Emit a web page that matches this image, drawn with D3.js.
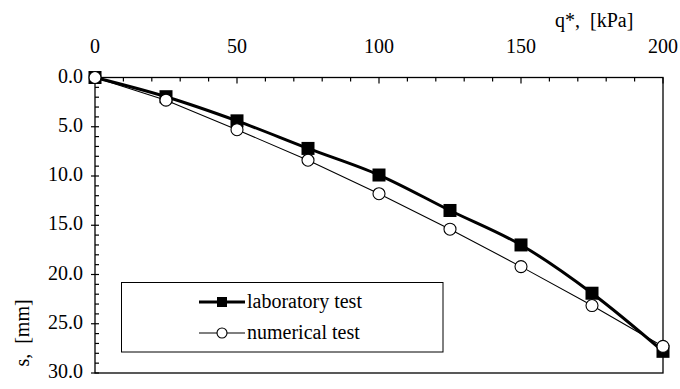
<!DOCTYPE html>
<html>
<head>
<meta charset="utf-8">
<script src="https://cdn.jsdelivr.net/npm/d3@7"></script>
<style>
  html, body { margin: 0; padding: 0; background: #fff; }
  svg { display: block; }
</style>
</head>
<body>
<svg id="settlement-plot" width="680" height="389"></svg>
<script>
// Load q* [kPa] and settlement s [mm]
const loads = [0, 25, 50, 75, 100, 125, 150, 175, 200];
const labSettlement = [0, 1.95, 4.4, 7.2, 9.9, 13.5, 17.0, 21.9, 27.8];
const numSettlement = [0, 2.3, 5.3, 8.4, 11.8, 15.4, 19.2, 23.15, 27.3];
const xTickLabels = [0, 50, 100, 150, 200];
const yTickLabels = [0, 5, 10, 15, 20, 25, 30];
const seriesNames = ["laboratory test", "numerical test"];

const svg = d3.select("#settlement-plot");
const plotLeft = 95, plotRight = 663, plotTop = 77.5, plotBottom = 373;
const FONT = "Liberation Serif";
const FS = 20;

const x = d3.scaleLinear().domain([0, 200]).range([plotLeft, plotRight]);
const y = d3.scaleLinear().domain([0, 30]).range([plotTop, plotBottom]);

function label(sel) {
  return sel.attr("font-family", FONT).style("font-family", FONT)
    .attr("font-size", FS).attr("fill", "#000");
}

// Frame
svg.append("rect")
  .attr("x", plotLeft).attr("y", plotTop)
  .attr("width", plotRight - plotLeft).attr("height", plotBottom - plotTop)
  .attr("fill", "none").attr("stroke", "#000").attr("stroke-width", 1.3);

// Top axis: minor ticks every 10, major every 50, pointing into the plot
const xMinor = d3.range(0, 201, 10);
svg.append("g").selectAll("line").data(xMinor).join("line")
  .attr("x1", d => x(d)).attr("x2", d => x(d))
  .attr("y1", plotTop).attr("y2", d => plotTop + (d % 50 === 0 ? 6 : 4))
  .attr("stroke", "#000").attr("stroke-width", 1.2);

svg.append("g").selectAll("text").data(xTickLabels).join("text")
  .attr("x", d => x(d)).attr("y", 53)
  .attr("text-anchor", "middle")
  .call(label)
  .text(d => d);

svg.append("text")
  .attr("x", 555).attr("y", 27)
  .call(label)
  .style("white-space", "pre")
  .text("q*,  [kPa]");

// Left axis: minor ticks every 1 mm, major every 5 mm
const yMinor = d3.range(0, 31, 1);
svg.append("g").selectAll("line").data(yMinor).join("line")
  .attr("x1", d => d % 5 === 0 ? plotLeft - 4 : plotLeft)
  .attr("x2", plotLeft + 4)
  .attr("y1", d => y(d)).attr("y2", d => y(d))
  .attr("stroke", "#000").attr("stroke-width", 1.2);

svg.append("g").selectAll("text").data(yTickLabels).join("text")
  .attr("x", 83).attr("y", d => y(d) + 5)
  .attr("text-anchor", "end")
  .call(label)
  .text(d => d3.format(".1f")(d));

svg.append("text")
  .attr("transform", "translate(29,333) rotate(-90)")
  .attr("text-anchor", "middle")
  .call(label)
  .style("white-space", "pre")
  .text("s,  [mm]");

// Curves
const labData = loads.map((q, i) => [q, labSettlement[i]]);
const numData = loads.map((q, i) => [q, numSettlement[i]]);

const smooth = d3.line().x(d => x(d[0])).y(d => y(d[1])).curve(d3.curveCatmullRom.alpha(0.5));
const straight = d3.line().x(d => x(d[0])).y(d => y(d[1]));

svg.append("path").datum(labData)
  .attr("d", smooth).attr("fill", "none")
  .attr("stroke", "#000").attr("stroke-width", 3);

svg.append("g").selectAll("rect").data(labData).join("rect")
  .attr("x", d => x(d[0]) - 6.5).attr("y", d => y(d[1]) - 6.5)
  .attr("width", 13).attr("height", 13)
  .attr("fill", "#000");

svg.append("path").datum(numData)
  .attr("d", straight).attr("fill", "none")
  .attr("stroke", "#000").attr("stroke-width", 1.1);

svg.append("g").selectAll("circle").data(numData).join("circle")
  .attr("cx", d => x(d[0])).attr("cy", d => y(d[1]))
  .attr("r", 6)
  .attr("fill", "#fff").attr("stroke", "#000").attr("stroke-width", 1.1);

// Legend
const lg = svg.append("g");
lg.append("rect")
  .attr("x", 121.5).attr("y", 282.5).attr("width", 321.5).attr("height", 69.5)
  .attr("fill", "#fff").attr("stroke", "#000").attr("stroke-width", 1);

const ly = [302, 333];
lg.append("line").attr("x1", 199).attr("x2", 245).attr("y1", ly[0]).attr("y2", ly[0])
  .attr("stroke", "#000").attr("stroke-width", 3);
lg.append("rect").attr("x", 222 - 5).attr("y", ly[0] - 5).attr("width", 10).attr("height", 10)
  .attr("fill", "#000");
lg.append("line").attr("x1", 199).attr("x2", 245).attr("y1", ly[1]).attr("y2", ly[1])
  .attr("stroke", "#000").attr("stroke-width", 1.1);
lg.append("circle").attr("cx", 222).attr("cy", ly[1]).attr("r", 5)
  .attr("fill", "#fff").attr("stroke", "#000").attr("stroke-width", 1.1);

lg.selectAll("text.lbl").data(seriesNames).join("text")
  .attr("class", "lbl")
  .attr("x", 247).attr("y", (d, i) => ly[i] + 6)
  .call(label)
  .text(d => d);
</script>
</body>
</html>
